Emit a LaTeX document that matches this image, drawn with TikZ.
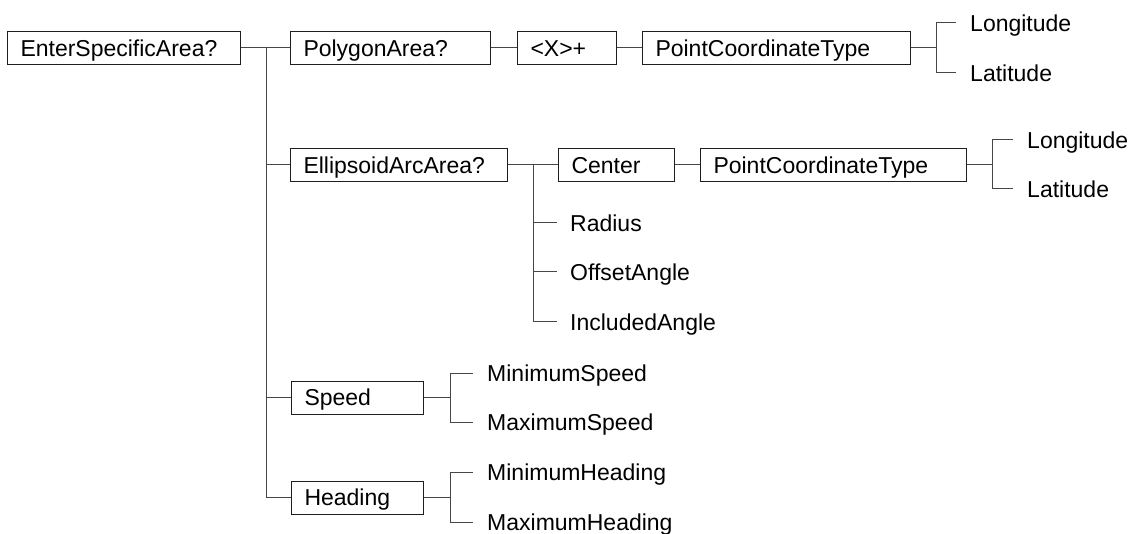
\documentclass[tikz,border=0pt]{standalone}
\usepackage{fontspec}
\setmainfont{Liberation Sans}
\usetikzlibrary{positioning}
\definecolor{boxline}{RGB}{30,30,30}
\definecolor{linkgray}{RGB}{70,70,70}
\tikzstyle{elem} = [rectangle, draw=boxline, line width=1pt, minimum height=33pt, inner xsep=13pt, inner ysep=0pt, align=left, text height=16.5pt, text depth=0pt]
\tikzstyle{leaf} = [anchor=west, inner xsep=14pt, inner ysep=0pt, text height=16.5pt, text depth=0pt]
\tikzstyle{link} = [draw=linkgray, line width=1pt]

\begin{document}
\begin{tikzpicture}[x=1pt, y=-1pt, every node/.style={font=\fontsize{23}{27}\selectfont}]
\useasboundingbox (0,0) rectangle (1132,534);

% Root
\node (area) [elem, anchor=west, text width=207pt] at (7,48) {EnterSpecificArea?};
\coordinate (trunk) at ([xshift=25pt]area.east);

% Polygon branch
\node (polygon) [elem, text width=174pt, right=49pt of area] {PolygonArea?};
\node (multi) [elem, text width=73pt, right=26pt of polygon] {<X>+};
\node (pct1) [elem, text width=242pt, right=25pt of multi] {PointCoordinateType};
\coordinate (fork1) at ([xshift=25pt]pct1.east);
\node (lon1) [leaf] at (956,23) {Longitude};
\node (lat1) [leaf] at (956,73) {Latitude};

% Ellipsoid branch
\node (ellipsoid) [elem, anchor=west, text width=191pt] at (290,165) {EllipsoidArcArea?};
\coordinate (fork2) at ([xshift=25pt]ellipsoid.east);
\node (center) [elem, text width=90pt, right=50pt of ellipsoid] {Center};
\node (pct2) [elem, text width=240pt, right=25pt of center] {PointCoordinateType};
\coordinate (fork3) at ([xshift=25pt]pct2.east);
\node (lon2) [leaf] at (1013,140) {Longitude};
\node (lat2) [leaf] at (1013,189) {Latitude};
\node (radius) [leaf, inner xsep=13pt] at (557,223) {Radius};
\node (offset) [leaf, inner xsep=13pt] at (557,272) {OffsetAngle};
\node (included) [leaf, inner xsep=13pt] at (557,322) {IncludedAngle};

% Speed and heading
\node (speed) [elem, anchor=west, text width=106pt] at (291,397.5) {Speed};
\coordinate (fork4) at ([xshift=26pt]speed.east);
\node (minspeed) [leaf] at (473,373) {MinimumSpeed};
\node (maxspeed) [leaf] at (473,422) {MaximumSpeed};

\node (heading) [elem, anchor=west, text width=106pt] at (291,497.5) {Heading};
\coordinate (fork5) at ([xshift=26pt]heading.east);
\node (minhead) [leaf] at (473,472) {MinimumHeading};
\node (maxhead) [leaf] at (473,522) {MaximumHeading};

% Connectors
\draw[link] (area.east) -- (polygon.west);
\draw[link] (trunk) |- (ellipsoid.west);
\draw[link] (trunk) |- (speed.west);
\draw[link] (trunk) |- (heading.west);
\draw[link] (polygon) -- (multi);
\draw[link] (multi) -- (pct1);
\draw[link] (pct1.east) -- (fork1);
\draw[link] (fork1) |- (lon1.west);
\draw[link] (fork1) |- (lat1.west);
\draw[link] (ellipsoid.east) -- (center.west);
\draw[link] (center) -- (pct2);
\draw[link] (pct2.east) -- (fork3);
\draw[link] (fork3) |- (lon2.west);
\draw[link] (fork3) |- (lat2.west);
\draw[link] (fork2) |- (radius.west);
\draw[link] (fork2) |- (offset.west);
\draw[link] (fork2) |- (included.west);
\draw[link] (speed.east) -- (fork4);
\draw[link] (fork4) |- (minspeed.west);
\draw[link] (fork4) |- (maxspeed.west);
\draw[link] (heading.east) -- (fork5);
\draw[link] (fork5) |- (minhead.west);
\draw[link] (fork5) |- (maxhead.west);
\end{tikzpicture}
\end{document}
